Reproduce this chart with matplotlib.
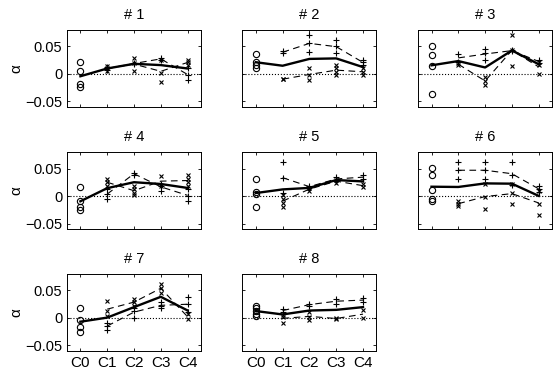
import numpy as np
import matplotlib.pyplot as plt

plt.rcParams['font.family'] = ['Liberation Sans', 'DejaVu Sans']

categories = ['C0', 'C1', 'C2', 'C3', 'C4']
titles = ['# 1', '# 2', '# 3', '# 4', '# 5', '# 6', '# 7', '# 8']

# circles at C0, then '+' and 'x' groups at C1..C4
circ_1 = [0.021, 0.0055, -0.019, -0.024]
plus_1 = [[0.008, 0.012, 0.010], [0.020, 0.018], [0.029, 0.026], [0.010, -0.002, -0.011]]
cross_1 = [[0.005, 0.015, 0.010], [0.029, 0.0195, 0.0055], [0.026, 0.0025, -0.014], [0.026, 0.021, 0.016]]

circ_2 = [0.036, 0.0225, 0.0165, 0.0105]
plus_2 = [[0.041, 0.038], [0.071, 0.056, 0.040], [0.061, 0.050, 0.038], [0.026, 0.021, 0.016]]
cross_2 = [[-0.009, -0.010], [0.0105, -0.002, -0.011], [0.016, 0.010, 0.004, -0.002], [0.010, 0.004, -0.002]]

circ_3 = [0.050, 0.035, 0.015, -0.037]
plus_3 = [[0.036, 0.0225], [0.045, 0.038, 0.026], [0.044, 0.041], [0.026, 0.0195]]
cross_3 = [[0.0195, 0.016], [-0.006, -0.012, -0.020], [0.070, 0.044, 0.015], [0.0225, 0.016, 0.0]]

circ_4 = [0.0156, -0.009, -0.020, -0.025]
plus_4 = [[0.0125, 0.003, -0.005], [0.042, 0.039], [0.022, 0.019, 0.009], [0.0125, 0.0, -0.009]]
cross_4 = [[0.031, 0.025, 0.019], [0.019, 0.0125, 0.006, 0.001], [0.036, 0.018], [0.0375, 0.031, 0.025, 0.019]]

circ_5 = [0.031, 0.0075, 0.003, -0.020]
plus_5 = [[0.0625, 0.0325, 0.005], [0.019, 0.015], [0.034, 0.028], [0.0375, 0.031]]
cross_5 = [[0.001, -0.006, -0.0125, -0.020], [0.015, 0.010], [0.030, 0.024], [0.022, 0.0156]]

circ_6 = [0.051, 0.0375, 0.011, -0.006, -0.009]
plus_6 = [[0.0625, 0.047, 0.031], [0.0625, 0.047, 0.031], [0.0625, 0.039, 0.020], [0.019, 0.0125, 0.0075]]
cross_6 = [[-0.009, -0.014, -0.019], [0.022, -0.001, -0.024], [0.022, 0.005, -0.014], [0.010, -0.014, -0.034]]

circ_7 = [0.019, -0.004, -0.016, -0.026]
plus_7 = [[-0.009, -0.014, -0.021], [0.019, 0.013, 0.0], [0.029, 0.0225, 0.0175], [0.038, 0.026, 0.011]]
cross_7 = [[0.031, 0.013, 0.004], [0.035, 0.029, 0.0225], [0.062, 0.054, 0.046], [0.007, -0.0025]]

circ_8 = [0.0225, 0.0175, 0.013, 0.007, 0.003]
plus_8 = [[0.016, 0.011], [0.026, 0.0225], [0.035, 0.026], [0.036, 0.029]]
cross_8 = [[0.006, 0.002, -0.010], [0.010, 0.0025, -0.004], [0.0006, -0.0025], [0.014, 0.0]]

circles = [circ_1, circ_2, circ_3, circ_4, circ_5, circ_6, circ_7, circ_8]
pluses = [plus_1, plus_2, plus_3, plus_4, plus_5, plus_6, plus_7, plus_8]
crosses = [cross_1, cross_2, cross_3, cross_4, cross_5, cross_6, cross_7, cross_8]


def draw_panel(ax, circ, plus, cross):
    x = np.arange(1, 5)
    ax.plot([-0.5, 4.5], [0, 0], ':', color='k', lw=0.8)
    ax.plot([0] * len(circ), circ, 'o', mfc='none', mec='k', ms=4.5, mew=0.8)
    for i in range(4):
        ax.plot([x[i]] * len(plus[i]), plus[i], '+', color='k', ms=5, mew=0.8)
        ax.plot([x[i]] * len(cross[i]), cross[i], 'x', color='k', ms=3.5, mew=0.8)
    plus_mean = [np.mean(v) for v in plus]
    cross_mean = [np.mean(v) for v in cross]
    ax.plot(x, plus_mean, color='k', lw=0.8, dashes=(6, 4))
    ax.plot(x, cross_mean, color='k', lw=0.8, dashes=(6, 4))
    overall = [np.mean(circ)] + [(a + b) / 2 for a, b in zip(plus_mean, cross_mean)]
    ax.plot(range(5), overall, '-', color='k', lw=1.7)


fig = plt.figure(figsize=(5.56, 3.72), dpi=100)

lefts = [0.1205, 0.436, 0.752]
bottoms = [0.7124, 0.3844, 0.0565]
w, h = 0.241, 0.207

for k in range(8):
    r, c = divmod(k, 3)
    ax = fig.add_axes([lefts[c], bottoms[r], w, h])
    draw_panel(ax, circles[k], pluses[k], crosses[k])
    ax.set_xlim(-0.5, 4.5)
    ax.set_ylim(-0.06, 0.08)
    ax.set_xticks(range(5))
    ax.set_yticks([-0.05, 0, 0.05])
    ax.tick_params(direction='in', top=True, right=True, length=2.5,
                   width=0.6, labelsize=10.5)
    ax.set_title(titles[k], fontsize=10.5, pad=8)
    for s in ax.spines.values():
        s.set_linewidth(0.7)
    if c == 0:
        ax.set_yticklabels(['\u22120.05', '0', '0.05'])
        ax.set_ylabel('\u03b1', fontsize=11, labelpad=1)
    else:
        ax.set_yticklabels([])
    if r == 2:
        ax.set_xticklabels(categories, fontsize=11)
    else:
        ax.set_xticklabels([])

fig.savefig('out.png', dpi=100)
